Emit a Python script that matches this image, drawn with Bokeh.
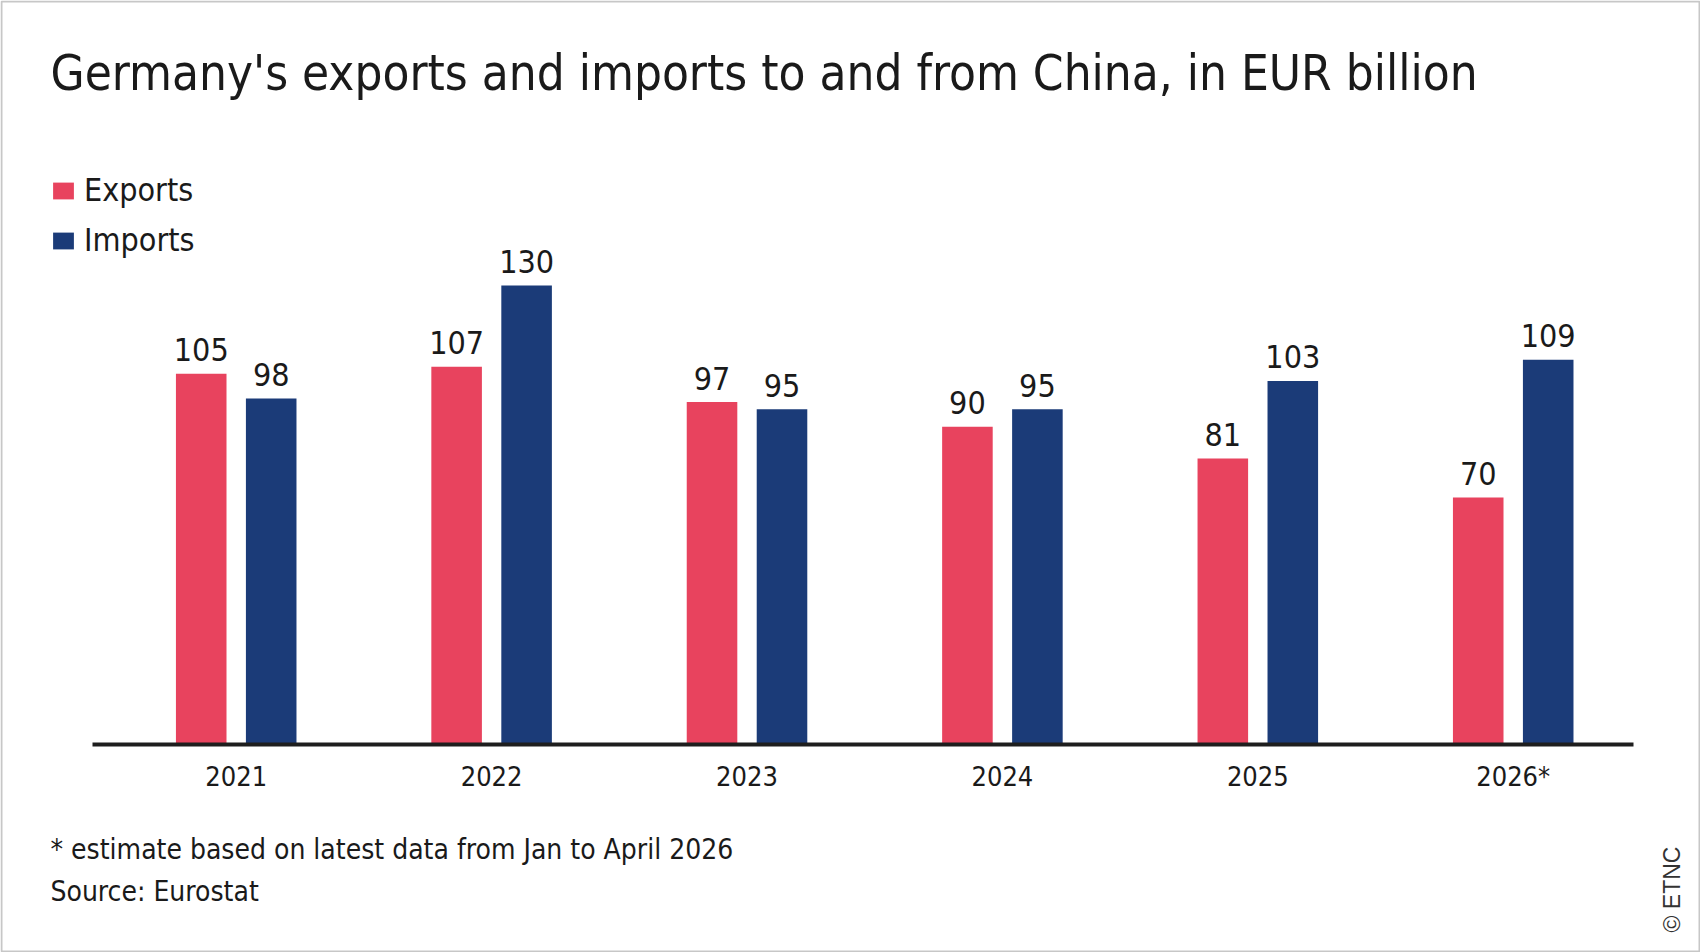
import math
from bokeh.plotting import figure
from bokeh.models import (ColumnDataSource, Label, Legend, LegendItem, FixedTicker,
                          BoxAnnotation, Range1d, LinearAxis)
from bokeh.transform import dodge
from bokeh.core.properties import value
from bokeh.embed import file_html
from bokeh.resources import INLINE

# ---------------- data ----------------
years = ["2021", "2022", "2023", "2024", "2025", "2026*"]
exports = [105, 107, 97, 90, 81, 70]
imports = [98, 130, 95, 95, 103, 109]
series_names = ["Exports", "Imports"]

title_text = "Germany's exports and imports to and from China, in EUR billion"
footnote_text = "* estimate based on latest data from Jan to April 2026"
source_text = "Source: Eurostat"
credit_text = "\u00a9 ETNC"

# ---------------- style ----------------
EXPORT_COLOR = "#E8435E"
IMPORT_COLOR = "#1B3B78"
TEXT_COLOR = "#1a1a1a"
FONT = "DejaVu Sans Condensed"
W, H = 1700, 952

pos = list(range(len(years)))
src = ColumnDataSource(dict(
    x=pos, exports=exports, imports=imports,
    exp_lbl=[str(v) for v in exports], imp_lbl=[str(v) for v in imports],
))

# frame covers the whole canvas; the category axis sits at y = 0
p = figure(width=W, height=H,
           x_range=Range1d(-0.9229, 5.7333), y_range=Range1d(-58.92, 210.76),
           output_backend="svg", toolbar_location=None, title_location=None,
           y_axis_location=None, x_axis_location=None,
           min_border=0, min_border_left=0, min_border_right=0,
           min_border_top=0, min_border_bottom=0)
p.xgrid.visible = False
p.ygrid.visible = False
p.outline_line_color = None
p.background_fill_color = "white"
p.border_fill_color = "white"

off = 0.137
bw = 0.198
r_exp = p.vbar(x=dodge("x", -off), top="exports", width=bw, source=src,
               fill_color=EXPORT_COLOR, line_color=None)
r_imp = p.vbar(x=dodge("x", off), top="imports", width=bw, source=src,
               fill_color=IMPORT_COLOR, line_color=None)

for col, lbl, sgn in (("exports", "exp_lbl", -1), ("imports", "imp_lbl", 1)):
    p.text(x=dodge("x", sgn * off), y=col, text=lbl, source=src,
           text_align="center", text_baseline="alphabetic", y_offset=-24,
           text_font=value(FONT), text_font_size="32px", text_color=TEXT_COLOR)

xa = LinearAxis(fixed_location=0, bounds=(-0.5626, 5.471))
xa.ticker = FixedTicker(ticks=pos)
xa.major_label_overrides = {i: y for i, y in zip(pos, years)}
xa.axis_line_width = 4
xa.axis_line_color = "#1e1e1e"
xa.major_tick_line_color = None
xa.minor_tick_line_color = None
xa.major_label_standoff = 10
xa.major_label_text_font = FONT
xa.major_label_text_font_size = "27px"
xa.major_label_text_color = TEXT_COLOR
p.add_layout(xa, "below")

legend = Legend(items=[LegendItem(label=series_names[0], renderers=[r_exp]),
                       LegendItem(label=series_names[1], renderers=[r_imp])],
                location=(50, 692.6), orientation="vertical",
                padding=0, margin=0, spacing=12,
                glyph_width=26, glyph_height=21, label_height=38, label_standoff=8,
                label_text_font=FONT, label_text_font_size="32px",
                label_text_color=TEXT_COLOR,
                border_line_color=None, background_fill_alpha=0)
p.add_layout(legend)

p.add_layout(Label(x=50, y=H - 73, x_units="screen", y_units="screen", text=title_text,
                   text_font=FONT, text_font_size="49px", text_color=TEXT_COLOR,
                   text_baseline="alphabetic", text_align="left"))
p.add_layout(Label(x=50, y=H - 849, x_units="screen", y_units="screen", text=footnote_text,
                   text_font=FONT, text_font_size="28px", text_color=TEXT_COLOR,
                   text_baseline="alphabetic", text_align="left"))
p.add_layout(Label(x=50, y=H - 891, x_units="screen", y_units="screen", text=source_text,
                   text_font=FONT, text_font_size="28px", text_color=TEXT_COLOR,
                   text_baseline="alphabetic", text_align="left"))
p.add_layout(Label(x=1671, y=H - 889, x_units="screen", y_units="screen", text=credit_text,
                   angle=math.pi / 2, text_font="Liberation Sans", text_font_size="23px",
                   text_color="#333333", text_baseline="middle", text_align="center"))

p.add_layout(BoxAnnotation(left=1, right=W - 1, top=H - 1, bottom=1,
                           left_units="screen", right_units="screen",
                           top_units="screen", bottom_units="screen",
                           fill_alpha=0, line_color="#444444", line_width=2))

open("out.html", "w").write(file_html(p, INLINE))
